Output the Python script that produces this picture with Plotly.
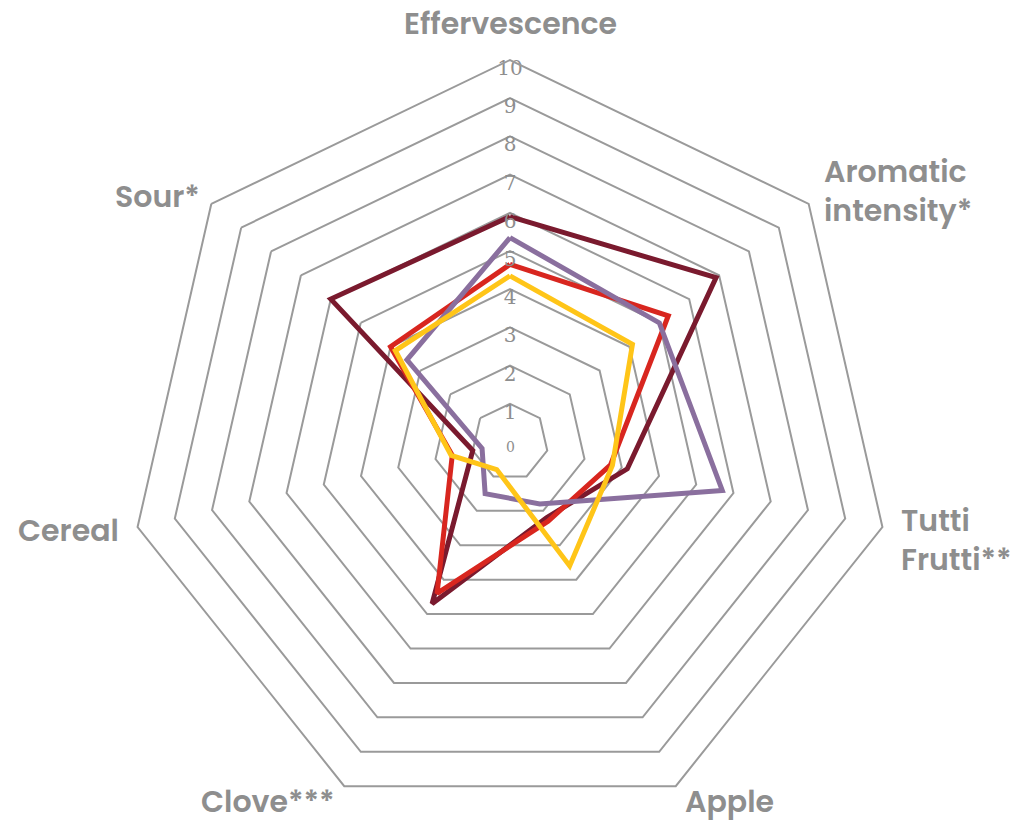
import math
import plotly.graph_objects as go

categories = ["Effervescence", "Aromatic intensity*", "Tutti Frutti**", "Apple",
              "Clove***", "Cereal", "Sour*"]
category_labels = ["Effervescence", "Aromatic<br>intensity*", "Tutti<br>Frutti**", "Apple",
                   "Clove***", "Cereal", "Sour*"]

series_names = ["Sample A", "Sample B", "Sample C", "Sample D"]
maroon_vals = [5.9, 6.9, 3.15, 2.2, 4.7, 1.0, 6.0]
red_vals = [4.65, 5.3, 2.7, 2.3, 4.4, 1.55, 4.0]
purple_vals = [5.35, 5.0, 5.7, 1.8, 1.5, 0.75, 3.45]
yellow_vals = [4.35, 4.1, 2.75, 3.6, 0.8, 1.58, 3.84]

radial_ticks = list(range(0, 11))
radial_tick_labels = [str(v) for v in radial_ticks]

series_values = [maroon_vals, red_vals, purple_vals, yellow_vals]
series_colors = ["#7A1A2E", "#D8261F", "#8A6F9E", "#FFC518"]

GRID = "#9a9a9a"
LABEL = "#8e8e8e"

W, H = 1015, 824
R = 382            # polar radius in px
CX, CY = 510, 442  # polar centre in px
RMAX = 10

fig = go.Figure()

for name, vals, col in zip(series_names, series_values, series_colors):
    fig.add_trace(go.Scatterpolar(
        r=vals + vals[:1],
        theta=categories + categories[:1],
        mode="lines",
        name=name,
        line=dict(color=col, width=5),
        hoverinfo="skip",
    ))

# radial tick labels along the top spoke (1..10; the zero sits at the centre)
fig.add_trace(go.Scatterpolar(
    r=radial_ticks[1:],
    theta=[categories[0]] * (len(radial_ticks) - 1),
    mode="text",
    text=radial_tick_labels[1:],
    textposition="bottom center",
    textfont=dict(family="DejaVu Serif, Liberation Serif, serif", size=20, color=LABEL),
    hoverinfo="skip",
    showlegend=False,
))

annotations = [dict(
    x=CX / W, y=1 - (CY + 5) / H, xref="paper", yref="paper",
    text=radial_tick_labels[0], showarrow=False, xanchor="center", yanchor="middle",
    font=dict(family="DejaVu Serif, Liberation Serif, serif", size=14, color=LABEL),
)]

# category labels placed just outside the outer ring (layout only)
label_r = [10.95, 10.45, 10.45, 10.45, 10.45, 10.45, 10.3]
label_dy = [0, -2, 9, 0, 0, 0, 0]
label_anchor = [("center", "middle"), ("left", "middle"), ("left", "middle"),
                ("left", "middle"), ("right", "middle"), ("right", "middle"),
                ("right", "middle")]
n = len(categories)
for k, (txt, rr, dy, (xa, ya)) in enumerate(zip(category_labels, label_r, label_dy, label_anchor)):
    ang = math.radians(90 - k * 360 / n)
    px = CX + R * rr / RMAX * math.cos(ang)
    py = CY - R * rr / RMAX * math.sin(ang) + dy
    annotations.append(dict(
        x=px / W, y=1 - py / H, xref="paper", yref="paper",
        text=txt, showarrow=False, xanchor=xa, yanchor=ya,
        align="left" if xa == "left" else ("right" if xa == "right" else "center"),
        font=dict(family="Poppins, Inter, Open Sans, sans-serif", size=30,
                  color=LABEL, weight=600),
    ))

fig.update_layout(
    width=W,
    height=H,
    margin=dict(l=0, r=0, t=0, b=0),
    paper_bgcolor="white",
    plot_bgcolor="white",
    showlegend=False,
    annotations=annotations,
    polar=dict(
        domain=dict(x=[(CX - R) / W, (CX + R) / W], y=[(H - CY - R) / H, (H - CY + R) / H]),
        bgcolor="white",
        gridshape="linear",
        angularaxis=dict(
            rotation=90,
            direction="clockwise",
            showgrid=False,
            showline=True,
            linecolor=GRID,
            linewidth=2,
            ticks="",
            showticklabels=False,
        ),
        radialaxis=dict(
            range=[0, RMAX],
            dtick=1,
            showticklabels=False,
            showline=False,
            ticks="",
            gridcolor=GRID,
            gridwidth=2,
        ),
    ),
)

fig.write_html("out.html", config={"displayModeBar": False},
               post_script="document.body.style.margin='0';")
